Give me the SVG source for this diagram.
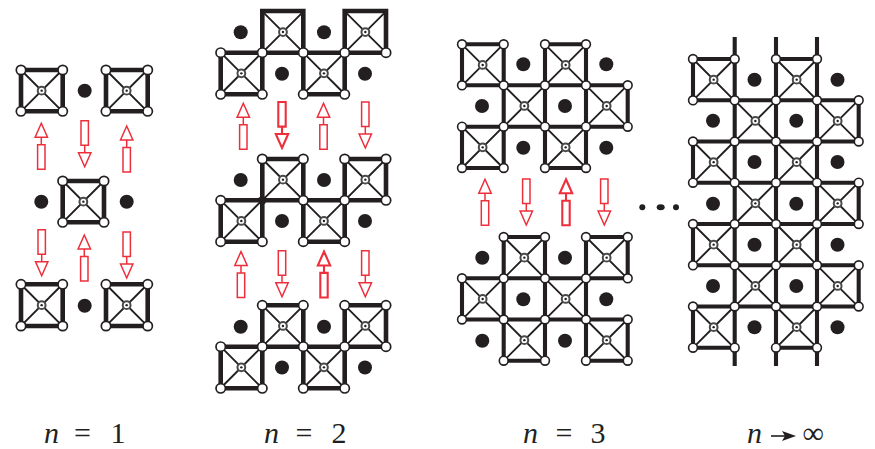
<svg xmlns="http://www.w3.org/2000/svg" width="875" height="449" viewBox="0 0 875 449">
<style>
.e{fill:none;stroke:#231f20;stroke-width:4.6;stroke-linecap:square}
.f{stroke-width:4.1}
.x{fill:none;stroke:#231f20;stroke-width:1.9}
.r{fill:#fff;stroke:#4a4a4a;stroke-width:2}
.c{fill:#231f20}
.v{fill:#fff;stroke:#231f20;stroke-width:1.7;r:4.7px}
.s .v{stroke-width:1.6;r:4.4px}
.d{fill:#231f20;r:7px}
.a{fill:#fff;stroke:#ed2f3c;stroke-width:1.5}
.b{fill:#fff;stroke:#ed2f3c;stroke-width:2.1}
.t{font-family:"Liberation Serif","Times New Roman",serif;font-size:30px;fill:#231f20}
.i{font-style:italic}
</style>
<defs>
<g id="cell"><path class="x" d="M0 0L41.3 41.3M41.3 0L0 41.3"/><circle class="r" cx="20.65" cy="20.65" r="3.9"/><circle class="c" cx="20.65" cy="20.65" r="1.2"/></g>
<path id="au" d="M0 0L6.2 14H-6.2ZM0 14V21.4M-3.7 21.4H3.7V46H-3.7Z"/>
<path id="ad" d="M0 46L6.2 32H-6.2ZM0 32V24.6M-3.7 24.6H3.7V0H-3.7Z"/>
</defs>
<g id="connectors">
<path class="e" d="M21 70H62.7V111.3H21ZM106 70H147.7V111.3H106ZM62.7 181H104V222.3H62.7ZM21 284.3H62.7V326H21ZM106 284.3H147.7V326H106Z"/>
<path class="e" d="M262.3 11H303.3V94.3M262.3 11V94.3M344.7 11H386V52.7M344.7 11V94.3M220.7 52.7H386M220.7 52.7V94.3H262.3M303.3 94.3H344.7"/>
<path class="e" d="M262.3 159H303.3V241.7M262.3 159V241.7M344.7 159H386V200.3M344.7 159V241.7M220.7 200.3H386M220.7 200.3V241.7H262.3M303.3 241.7H344.7"/>
<path class="e" d="M262.3 305.3H303.3V388.3M262.3 305.3V388.3M344.7 305.3H386V346.7M344.7 305.3V388.3M220.7 346.7H386M220.7 346.7V388.3H262.3M303.3 388.3H344.7"/>
<path class="e f" d="M462 44.3H503.7V168H462V126.7H627.7V85.3H462ZM545 44.3H586V168H545Z"/>
<path class="e f" d="M503.7 237H545V360.7H503.7ZM586 237H627.7V278.3H462V319.5H627.7V360.7H586Z"/>
<path class="e f" d="M734.7 39V364M776 39V364M817 39V364M693 59H734.7M776 59H817M693 347.7H734.7M776 347.7H817M693 100.3H858.7M693 141.5H858.7M693 182.7H858.7M693 224H858.7M693 265.3H858.7M693 306.5H858.7M693 59V100.3M693 141.5V182.7M693 224V265.3M693 306.5V347.7M858.7 100.3V141.5M858.7 182.7V224M858.7 265.3V306.5"/>
</g>
<g id="panel-n1">
<g id="n1-cell1"><use href="#cell" x="21" y="70"/></g>
<g id="n1-cell2"><use href="#cell" x="106" y="70"/></g>
<g id="n1-cell3"><use href="#cell" x="62.7" y="181"/></g>
<g id="n1-cell4"><use href="#cell" x="21" y="284.5"/></g>
<g id="n1-cell5"><use href="#cell" x="106" y="284.5"/></g>
<g id="n1-vertices">
<circle class="v" cx="21" cy="70"/><circle class="v" cx="62.7" cy="70"/><circle class="v" cx="21" cy="111.3"/><circle class="v" cx="62.7" cy="111.3"/>
<circle class="v" cx="106" cy="70"/><circle class="v" cx="147.7" cy="70"/><circle class="v" cx="106" cy="111.3"/><circle class="v" cx="147.7" cy="111.3"/>
<circle class="v" cx="62.7" cy="181"/><circle class="v" cx="104" cy="181"/><circle class="v" cx="62.7" cy="222.3"/><circle class="v" cx="104" cy="222.3"/>
<circle class="v" cx="21" cy="284.3"/><circle class="v" cx="62.7" cy="284.3"/><circle class="v" cx="21" cy="326"/><circle class="v" cx="62.7" cy="326"/>
<circle class="v" cx="106" cy="284.3"/><circle class="v" cx="147.7" cy="284.3"/><circle class="v" cx="106" cy="326"/><circle class="v" cx="147.7" cy="326"/>
</g>
<g id="n1-dots">
<circle class="d" cx="84.7" cy="90.7"/><circle class="d" cx="41.3" cy="201.7"/><circle class="d" cx="126.7" cy="201.7"/><circle class="d" cx="84.7" cy="305.7"/>
</g>
</g>
<g id="panel-n2">
<g id="n2-cell1"><use href="#cell" x="262.3" y="11.4"/></g>
<g id="n2-cell2"><use href="#cell" x="344.7" y="11.4"/></g>
<g id="n2-cell3"><use href="#cell" x="220.7" y="52.7"/></g>
<g id="n2-cell4"><use href="#cell" x="303.3" y="52.7"/></g>
<g id="n2-cell5"><use href="#cell" x="262.3" y="159"/></g>
<g id="n2-cell6"><use href="#cell" x="344.7" y="159"/></g>
<g id="n2-cell7"><use href="#cell" x="220.7" y="200.3"/></g>
<g id="n2-cell8"><use href="#cell" x="303.3" y="200.3"/></g>
<g id="n2-cell9"><use href="#cell" x="262.3" y="305.3"/></g>
<g id="n2-cell10"><use href="#cell" x="344.7" y="305.3"/></g>
<g id="n2-cell11"><use href="#cell" x="220.7" y="346.7"/></g>
<g id="n2-cell12"><use href="#cell" x="303.3" y="346.7"/></g>
<g id="n2-vertices">
<circle class="v" cx="220.7" cy="52.7"/><circle class="v" cx="262.3" cy="52.7"/><circle class="v" cx="303.3" cy="52.7"/><circle class="v" cx="344.7" cy="52.7"/><circle class="v" cx="386" cy="52.7"/>
<circle class="v" cx="220.7" cy="94.3"/><circle class="v" cx="262.3" cy="94.3"/><circle class="v" cx="303.3" cy="94.3"/><circle class="v" cx="344.7" cy="94.3"/>
<circle class="v" cx="262.3" cy="159"/><circle class="v" cx="303.3" cy="159"/><circle class="v" cx="344.7" cy="159"/><circle class="v" cx="386" cy="159"/>
<circle class="v" cx="220.7" cy="200.3"/><circle class="c" cx="262.3" cy="200.3" r="4.2"/><circle class="v" cx="303.3" cy="200.3"/><circle class="v" cx="344.7" cy="200.3"/><circle class="v" cx="386" cy="200.3"/>
<circle class="v" cx="220.7" cy="241.7"/><circle class="v" cx="262.3" cy="241.7"/><circle class="v" cx="303.3" cy="241.7"/><circle class="v" cx="344.7" cy="241.7"/>
<circle class="v" cx="262.3" cy="305.3"/><circle class="v" cx="303.3" cy="305.3"/><circle class="v" cx="344.7" cy="305.3"/><circle class="v" cx="386" cy="305.3"/>
<circle class="v" cx="220.7" cy="346.7"/><circle class="v" cx="262.3" cy="346.7"/><circle class="v" cx="303.3" cy="346.7"/><circle class="v" cx="344.7" cy="346.7"/><circle class="v" cx="386" cy="346.7"/>
<circle class="v" cx="220.7" cy="388.3"/><circle class="v" cx="262.3" cy="388.3"/><circle class="v" cx="303.3" cy="388.3"/><circle class="v" cx="344.7" cy="388.3"/>
</g>
<g id="n2-dots">
<circle class="d" cx="240.7" cy="32.3"/><circle class="d" cx="324" cy="32.3"/><circle class="d" cx="282" cy="73.7"/><circle class="d" cx="365" cy="73.7"/>
<circle class="d" cx="240.7" cy="180"/><circle class="d" cx="324" cy="180"/><circle class="d" cx="282" cy="221"/><circle class="d" cx="365" cy="221"/>
<circle class="d" cx="240.7" cy="326.7"/><circle class="d" cx="324" cy="326.7"/><circle class="d" cx="282" cy="367.5"/><circle class="d" cx="365" cy="367.5"/>
</g>
</g>
<g id="panel-n3" class="s">
<g id="n3-cell1"><use href="#cell" x="462" y="44.3"/></g>
<g id="n3-cell2"><use href="#cell" x="545" y="44.3"/></g>
<g id="n3-cell3"><use href="#cell" x="503.7" y="85.3"/></g>
<g id="n3-cell4"><use href="#cell" x="586" y="85.3"/></g>
<g id="n3-cell5"><use href="#cell" x="462" y="126.7"/></g>
<g id="n3-cell6"><use href="#cell" x="545" y="126.7"/></g>
<g id="n3-cell7"><use href="#cell" x="503.7" y="237"/></g>
<g id="n3-cell8"><use href="#cell" x="586" y="237"/></g>
<g id="n3-cell9"><use href="#cell" x="462" y="278.3"/></g>
<g id="n3-cell10"><use href="#cell" x="545" y="278.3"/></g>
<g id="n3-cell11"><use href="#cell" x="503.7" y="319.5"/></g>
<g id="n3-cell12"><use href="#cell" x="586" y="319.5"/></g>
<g id="n3-vertices">
<circle class="v" cx="462" cy="44.3"/><circle class="v" cx="503.7" cy="44.3"/><circle class="v" cx="545" cy="44.3"/><circle class="v" cx="586" cy="44.3"/>
<circle class="v" cx="462" cy="85.3"/><circle class="v" cx="503.7" cy="85.3"/><circle class="v" cx="545" cy="85.3"/><circle class="v" cx="586" cy="85.3"/><circle class="v" cx="627.7" cy="85.3"/>
<circle class="v" cx="462" cy="126.7"/><circle class="v" cx="503.7" cy="126.7"/><circle class="v" cx="545" cy="126.7"/><circle class="v" cx="586" cy="126.7"/><circle class="v" cx="627.7" cy="126.7"/>
<circle class="v" cx="462" cy="168"/><circle class="v" cx="503.7" cy="168"/><circle class="v" cx="545" cy="168"/><circle class="v" cx="586" cy="168"/>
<circle class="v" cx="503.7" cy="237"/><circle class="v" cx="545" cy="237"/><circle class="v" cx="586" cy="237"/><circle class="v" cx="627.7" cy="237"/>
<circle class="v" cx="462" cy="278.3"/><circle class="v" cx="503.7" cy="278.3"/><circle class="v" cx="545" cy="278.3"/><circle class="v" cx="586" cy="278.3"/><circle class="v" cx="627.7" cy="278.3"/>
<circle class="v" cx="462" cy="319.5"/><circle class="v" cx="503.7" cy="319.5"/><circle class="v" cx="545" cy="319.5"/><circle class="v" cx="586" cy="319.5"/><circle class="v" cx="627.7" cy="319.5"/>
<circle class="v" cx="503.7" cy="360.7"/><circle class="v" cx="545" cy="360.7"/><circle class="v" cx="586" cy="360.7"/><circle class="v" cx="627.7" cy="360.7"/>
</g>
<g id="n3-dots">
<circle class="d" cx="523.3" cy="64.3"/><circle class="d" cx="606.3" cy="64.3"/><circle class="d" cx="482" cy="106"/><circle class="d" cx="565" cy="106"/><circle class="d" cx="523.3" cy="147.7"/><circle class="d" cx="606.3" cy="147.7"/>
<circle class="d" cx="482.3" cy="257.7"/><circle class="d" cx="565" cy="257.7"/><circle class="d" cx="523.3" cy="299.3"/><circle class="d" cx="606.3" cy="299.3"/><circle class="d" cx="482.3" cy="340.7"/><circle class="d" cx="565" cy="340.7"/>
</g>
</g>
<g id="ellipsis"><circle class="c" cx="642.3" cy="207.3" r="3"/><ellipse class="c" cx="660.7" cy="207.3" rx="4" ry="3"/><circle class="c" cx="676" cy="207.3" r="3"/></g>
<g id="panel-ninf" class="s">
<g id="ni-cell1"><use href="#cell" x="693" y="59"/></g>
<g id="ni-cell2"><use href="#cell" x="776" y="59"/></g>
<g id="ni-cell3"><use href="#cell" x="734.7" y="100.3"/></g>
<g id="ni-cell4"><use href="#cell" x="817" y="100.3"/></g>
<g id="ni-cell5"><use href="#cell" x="693" y="141.5"/></g>
<g id="ni-cell6"><use href="#cell" x="776" y="141.5"/></g>
<g id="ni-cell7"><use href="#cell" x="734.7" y="182.7"/></g>
<g id="ni-cell8"><use href="#cell" x="817" y="182.7"/></g>
<g id="ni-cell9"><use href="#cell" x="693" y="224"/></g>
<g id="ni-cell10"><use href="#cell" x="776" y="224"/></g>
<g id="ni-cell11"><use href="#cell" x="734.7" y="265.3"/></g>
<g id="ni-cell12"><use href="#cell" x="817" y="265.3"/></g>
<g id="ni-cell13"><use href="#cell" x="693" y="306.5"/></g>
<g id="ni-cell14"><use href="#cell" x="776" y="306.5"/></g>
<g id="ni-vertices">
<circle class="v" cx="693" cy="59"/><circle class="v" cx="734.7" cy="59"/><circle class="v" cx="776" cy="59"/><circle class="v" cx="817" cy="59"/>
<circle class="v" cx="693" cy="100.3"/><circle class="v" cx="734.7" cy="100.3"/><circle class="v" cx="776" cy="100.3"/><circle class="v" cx="817" cy="100.3"/><circle class="v" cx="858.7" cy="100.3"/>
<circle class="v" cx="693" cy="141.5"/><circle class="v" cx="734.7" cy="141.5"/><circle class="v" cx="776" cy="141.5"/><circle class="v" cx="817" cy="141.5"/><circle class="v" cx="858.7" cy="141.5"/>
<circle class="v" cx="693" cy="182.7"/><circle class="v" cx="734.7" cy="182.7"/><circle class="v" cx="776" cy="182.7"/><circle class="v" cx="817" cy="182.7"/><circle class="v" cx="858.7" cy="182.7"/>
<circle class="v" cx="693" cy="224"/><circle class="v" cx="734.7" cy="224"/><circle class="v" cx="776" cy="224"/><circle class="v" cx="817" cy="224"/><circle class="v" cx="858.7" cy="224"/>
<circle class="v" cx="693" cy="265.3"/><circle class="v" cx="734.7" cy="265.3"/><circle class="v" cx="776" cy="265.3"/><circle class="v" cx="817" cy="265.3"/><circle class="v" cx="858.7" cy="265.3"/>
<circle class="v" cx="693" cy="306.5"/><circle class="v" cx="734.7" cy="306.5"/><circle class="v" cx="776" cy="306.5"/><circle class="v" cx="817" cy="306.5"/><circle class="v" cx="858.7" cy="306.5"/>
<circle class="v" cx="693" cy="347.7"/><circle class="v" cx="734.7" cy="347.7"/><circle class="v" cx="776" cy="347.7"/><circle class="v" cx="817" cy="347.7"/>
</g>
<g id="ni-dots">
<circle class="d" cx="754.5" cy="79.7"/><circle class="d" cx="837.5" cy="79.7"/><circle class="d" cx="713" cy="120.7"/><circle class="d" cx="796.3" cy="120.7"/>
<circle class="d" cx="754.5" cy="162"/><circle class="d" cx="837.5" cy="162"/><circle class="d" cx="713" cy="203.7"/><circle class="d" cx="796.3" cy="203.7"/>
<circle class="d" cx="754.5" cy="244.7"/><circle class="d" cx="837.5" cy="244.7"/><circle class="d" cx="713" cy="286"/><circle class="d" cx="796.3" cy="286"/>
<circle class="d" cx="754.5" cy="327.2"/><circle class="d" cx="837.5" cy="327.2"/>
</g>
</g>
<g id="arrows">
<use href="#au" class="a" x="41.3" y="123.3"/><use href="#ad" class="a" x="84.7" y="120.7"/><use href="#au" class="a" x="126.7" y="126"/>
<use href="#ad" class="a" x="41.7" y="229.7"/><use href="#au" class="a" x="84.3" y="235"/><use href="#ad" class="a" x="126.7" y="232"/>
<use href="#au" class="a" x="243.3" y="103.3"/><use href="#ad" class="b" x="282" y="102"/><use href="#au" class="a" x="323.5" y="103.3"/><use href="#ad" class="a" x="365.3" y="102"/>
<use href="#au" class="a" x="241" y="251.5"/><use href="#ad" class="a" x="282" y="250.7"/><use href="#au" class="b" x="324" y="251.5"/><use href="#ad" class="a" x="365.3" y="250.7"/>
<use href="#au" class="a" x="485" y="179.3"/><use href="#ad" class="a" x="526.3" y="179"/><use href="#au" class="b" x="566" y="179.3"/><use href="#ad" class="a" x="604.3" y="179"/>
</g>
<g id="labels">
<text class="t" x="44" y="442.5"><tspan class="i">n</tspan></text><text class="t" x="74" y="442.5">=</text><text class="t" x="110.5" y="442.5">1</text>
<text class="t" x="264" y="442.5"><tspan class="i">n</tspan></text><text class="t" x="295.5" y="442.5">=</text><text class="t" x="331.5" y="442.5">2</text>
<text class="t" x="523" y="442.5"><tspan class="i">n</tspan></text><text class="t" x="555.5" y="442.5">=</text><text class="t" x="590.5" y="442.5">3</text>
<text class="t" x="747" y="442.5"><tspan class="i">n</tspan></text><text class="t" x="802.5" y="442.5">∞</text>
<path d="M771 436H785" stroke="#231f20" stroke-width="1.6" fill="none"/><path class="c" d="M796 436L782 431L785 436L782 441Z"/>
</g>
</svg>
